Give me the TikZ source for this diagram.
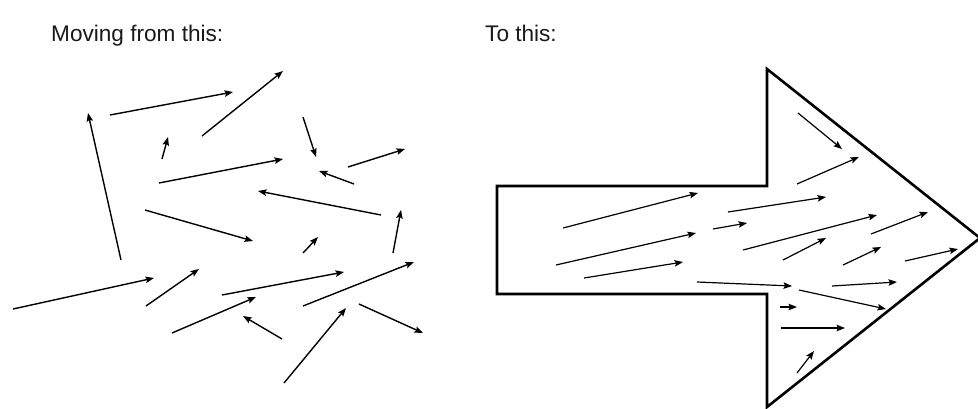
\documentclass[tikz,border=0pt]{standalone}
\usepackage{fontspec}
\setmainfont{Liberation Sans}
\usetikzlibrary{arrows.meta}
\begin{document}
\begin{tikzpicture}[x=1pt,y=-1pt,
  vec/.style={line width=1.4pt,-{Stealth[length=8.5pt,width=6.5pt,inset=1.5pt]}},
  vecr/.style={line width=1.2pt,-{Stealth[length=8.5pt,width=6.5pt,inset=1.5pt]}},
  outline/.style={line width=2.6pt,line join=miter},
  lbl/.style={anchor=base west,inner sep=0pt,font=\fontsize{22.6}{26}\selectfont,text=black!90}]
\useasboundingbox (0,0) rectangle (978,408);
\node[lbl] (t1) at (51,41) {Moving from this:};
\node[lbl] (t2) at (485,41) {To this:};
% left panel
\draw[vec] (121,260) -- (88,113);
\draw[vec] (110,115) -- (233,92);
\draw[vec] (202,136) -- (283,71);
\draw[vec] (162,159) -- (168,137);
\draw[vec] (159,183) -- (283,159);
\draw[vec] (145,210) -- (253,241);
\draw[vec] (303,117) -- (316,157);
\draw[vec] (348,167) -- (405,149);
\draw[vec] (354,184) -- (319,171);
\draw[vec] (381,215) -- (258,191);
\draw[vec] (393,253) -- (401,210);
\draw[vec] (303,253) -- (318,237);
\draw[vec] (13,309) -- (154,278);
\draw[vec] (146,306) -- (199,269);
\draw[vec] (172,333) -- (256,297);
\draw[vec] (222,295) -- (344,272);
\draw[vec] (303,306) -- (414,262);
\draw[vec] (284,383) -- (346,308);
\draw[vec] (282,339) -- (243,316);
\draw[vec] (359,304) -- (423,333);
% right panel outline
\draw[outline] (497,186) -- (767,186) -- (767,69) -- (980,238) -- (767,407) -- (767,294) -- (497,294) -- cycle;
% right panel arrows
\draw[vecr] (563,228) -- (698,193);
\draw[vecr] (556,265) -- (696,233);
\draw[vecr] (584,278) -- (683,262);
\draw[vecr] (697,282) -- (792,286);
\draw[vecr] (728,212) -- (826,197);
\draw[vecr] (713,229) -- (747,223);
\draw[vecr] (798,113) -- (842,149);
\draw[vecr] (797,184) -- (859,157);
\draw[vecr] (743,250) -- (877,215);
\draw[vecr] (871,234) -- (928,212);
\draw[vecr] (783,260) -- (826,238);
\draw[vecr] (843,265) -- (881,247);
\draw[vecr] (905,261) -- (958,249);
\draw[vecr] (832,286) -- (897,282);
\draw[vecr] (799,290) -- (886,309);
\draw[vecr] (780,307) -- (797,307);
\draw[vecr] (781,328) -- (845,328);
\draw[vecr] (797,373) -- (814,351);
\end{tikzpicture}
\end{document}
